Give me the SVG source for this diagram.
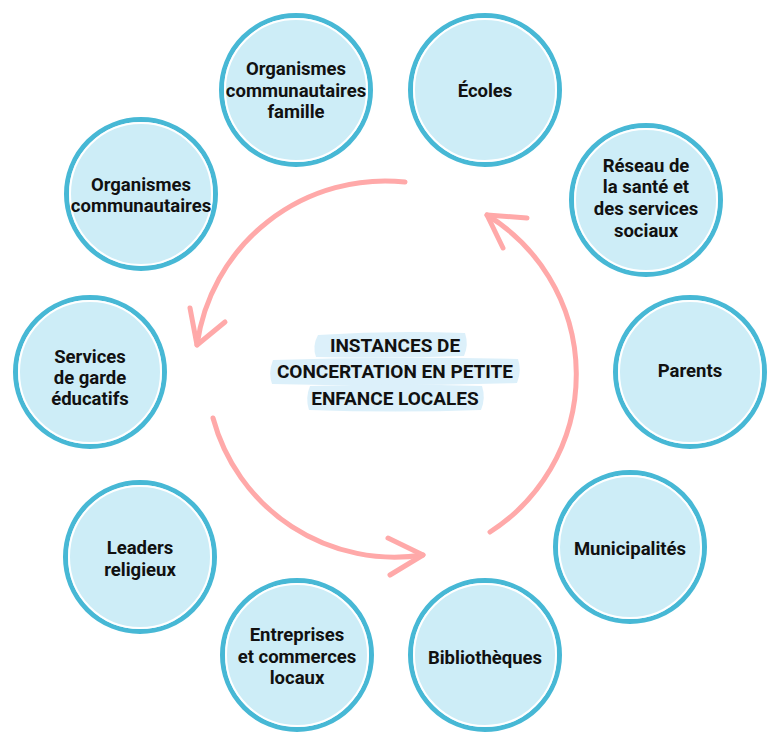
<svg xmlns="http://www.w3.org/2000/svg" width="780" height="732" viewBox="0 0 780 732">
<style>
.ring{fill:#cdedf7;stroke:#47b8d5;stroke-width:5}
.gap{fill:none;stroke:#ffffff;stroke-width:2}
.lbl{font-family:Roboto,"Liberation Sans",sans-serif;font-weight:700;font-size:18.5px;fill:#111;text-anchor:middle}
.ctr{font-family:Roboto,"Liberation Sans",sans-serif;font-weight:700;font-size:19px;fill:#111;text-anchor:middle}
.arr{fill:none;stroke:#ffa9a9;stroke-width:5;stroke-linecap:round;stroke-linejoin:round}
.hl{fill:#dcf0fa}
</style>
<rect width="780" height="732" fill="#ffffff"/>
<g id="connectors">
<path class="arr" d="M405,182 A190,190 0 0 0 197,345"/>
<path class="arr" d="M190,308 L197,345 L225,322"/>
<path class="arr" d="M213,418 A188,188 0 0 0 423,555"/>
<path class="arr" d="M388,538 L423,555 L390,575"/>
<path class="arr" d="M490,532 A187,187 0 0 0 487,215"/>
<path class="arr" d="M527,218 L487,215 L503,248"/>
</g>
<g id="center">
<path class="hl" d="M318,335 Q390,330 465,333 Q469,345 464,356 Q390,359 316,357 Q312,346 318,335 Z"/>
<path class="hl" d="M273,360 Q395,356 518,359 Q522,371 517,383 Q395,387 272,384 Q268,372 273,360 Z"/>
<path class="hl" d="M310,386 Q396,383 482,386 Q486,398 481,410 Q396,413 309,410 Q305,398 310,386 Z"/>
<text class="ctr" x="395" y="352">INSTANCES DE</text>
<text class="ctr" x="395" y="378">CONCERTATION EN PETITE</text>
<text class="ctr" x="395" y="405">ENFANCE LOCALES</text>
</g>
<g id="n-orgfam">
<circle class="ring" cx="296" cy="90" r="74.5"/><circle class="gap" cx="296" cy="90" r="71"/>
<text class="lbl" x="296" y="75">Organismes</text><text class="lbl" x="296" y="97">communautaires</text><text class="lbl" x="296" y="118">famille</text>
</g>
<g id="n-ecoles">
<circle class="ring" cx="485" cy="90" r="74.5"/><circle class="gap" cx="485" cy="90" r="71"/>
<text class="lbl" x="485" y="97">Écoles</text>
</g>
<g id="n-orgcom">
<circle class="ring" cx="141" cy="194" r="74.5"/><circle class="gap" cx="141" cy="194" r="71"/>
<text class="lbl" x="141" y="191">Organismes</text><text class="lbl" x="141" y="212">communautaires</text>
</g>
<g id="n-reseau">
<circle class="ring" cx="646" cy="200" r="74.5"/><circle class="gap" cx="646" cy="200" r="71"/>
<text class="lbl" x="646" y="172">Réseau de</text><text class="lbl" x="646" y="193">la santé et</text><text class="lbl" x="646" y="215">des services</text><text class="lbl" x="646" y="237">sociaux</text>
</g>
<g id="n-garde">
<circle class="ring" cx="90" cy="372" r="74.5"/><circle class="gap" cx="90" cy="372" r="71"/>
<text class="lbl" x="90" y="363">Services</text><text class="lbl" x="90" y="384">de garde</text><text class="lbl" x="90" y="405">éducatifs</text>
</g>
<g id="n-parents">
<circle class="ring" cx="690" cy="372" r="74.5"/><circle class="gap" cx="690" cy="372" r="71"/>
<text class="lbl" x="690" y="377">Parents</text>
</g>
<g id="n-leaders">
<circle class="ring" cx="140" cy="557" r="74.5"/><circle class="gap" cx="140" cy="557" r="71"/>
<text class="lbl" x="140" y="554">Leaders</text><text class="lbl" x="140" y="576">religieux</text>
</g>
<g id="n-munic">
<circle class="ring" cx="630" cy="547" r="74.5"/><circle class="gap" cx="630" cy="547" r="71"/>
<text class="lbl" x="630" y="555">Municipalités</text>
</g>
<g id="n-entreprises">
<circle class="ring" cx="297" cy="655" r="74.5"/><circle class="gap" cx="297" cy="655" r="71"/>
<text class="lbl" x="297" y="641">Entreprises</text><text class="lbl" x="297" y="663">et commerces</text><text class="lbl" x="297" y="684">locaux</text>
</g>
<g id="n-biblio">
<circle class="ring" cx="485" cy="655" r="74.5"/><circle class="gap" cx="485" cy="655" r="71"/>
<text class="lbl" x="485" y="664">Bibliothèques</text>
</g>
</svg>
